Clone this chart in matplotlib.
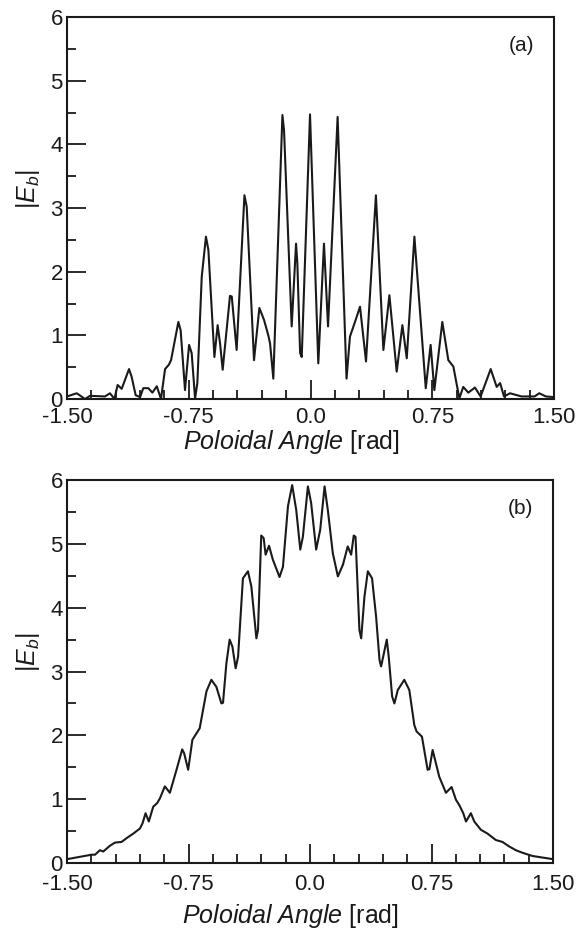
import matplotlib
matplotlib.use("Agg")
import matplotlib.pyplot as plt
from matplotlib.ticker import MultipleLocator

plt.rcParams['font.family'] = ['Liberation Sans', 'DejaVu Sans']
plt.rcParams['mathtext.fontset'] = 'custom'
plt.rcParams['mathtext.rm'] = 'Liberation Sans'
plt.rcParams['mathtext.it'] = 'Liberation Sans:italic'

# Panel (a)
angle_a = [-1.5, -1.44, -1.389, -1.358, -1.266, -1.235, -1.208, -1.188, -1.163, -1.118, -1.102,
           -1.077, -1.05, -1.03, -0.999, -0.974, -0.947, -0.921, -0.896, -0.872, -0.859, -0.814,
           -0.800, -0.773, -0.748, -0.732, -0.711, -0.697, -0.670, -0.644, -0.629, -0.592, -0.572,
           -0.557, -0.541, -0.496, -0.485, -0.455, -0.407, -0.393, -0.348, -0.315, -0.286, -0.260,
           -0.249, -0.229, -0.173, -0.163, -0.116, -0.089, -0.081, -0.064, -0.054, -0.003,
           0.048, 0.083, 0.108, 0.167, 0.222, 0.243, 0.274, 0.305, 0.342, 0.403, 0.449, 0.486,
           0.531, 0.566, 0.593, 0.640, 0.710, 0.740, 0.763, 0.812, 0.849, 0.880, 0.917, 0.941,
           0.972, 1.013, 1.048, 1.110, 1.147, 1.168, 1.192, 1.229, 1.30, 1.38, 1.409, 1.45, 1.5]
eb_a = [0.04, 0.09, 0.0, 0.05, 0.04, 0.09, 0.0, 0.22, 0.16, 0.47, 0.35,
        0.06, 0.03, 0.17, 0.17, 0.10, 0.20, 0.0, 0.47, 0.54, 0.61, 1.21,
        1.08, 0.14, 0.85, 0.72, 0.01, 0.25, 1.92, 2.55, 2.34, 0.66, 1.16,
        0.87, 0.46, 1.62, 1.61, 0.77, 3.20, 3.02, 0.61, 1.43, 1.24, 1.00,
        0.87, 0.32, 4.46, 4.22, 1.14, 2.44, 2.13, 0.72, 0.66, 4.47,
        0.56, 2.44, 1.14, 4.43, 0.32, 0.98, 1.21, 1.45, 0.59, 3.20, 0.77, 1.63,
        0.43, 1.16, 0.64, 2.55, 0.17, 0.85, 0.14, 1.21, 0.61, 0.51, 0.01, 0.19,
        0.10, 0.18, 0.04, 0.47, 0.19, 0.25, 0.04, 0.09, 0.04, 0.04, 0.09, 0.04, 0.03]

# Panel (b)
angle_b = [-1.5, -1.348, -1.327, -1.297, -1.276, -1.235, -1.204, -1.163, -1.132, -1.091, -1.050,
           -1.034, -1.015, -0.995, -0.968, -0.943, -0.927, -0.896, -0.865, -0.824, -0.789, -0.777,
           -0.752, -0.726, -0.701, -0.681, -0.639, -0.609, -0.578, -0.547, -0.537, -0.516, -0.496,
           -0.479, -0.459, -0.444, -0.414, -0.383, -0.362, -0.331, -0.321, -0.301, -0.286, -0.274,
           -0.253, -0.229, -0.188, -0.167, -0.136, -0.110, -0.085, -0.060, -0.044, -0.013,
           0.007, 0.038, 0.063, 0.090, 0.110, 0.141, 0.172, 0.203, 0.233, 0.254, 0.270, 0.281,
           0.305, 0.316, 0.336, 0.357, 0.383, 0.408, 0.429, 0.439, 0.474, 0.486, 0.507, 0.521,
           0.542, 0.582, 0.613, 0.644, 0.658, 0.691, 0.726, 0.737, 0.757, 0.798, 0.839, 0.874,
           0.901, 0.921, 0.946, 0.963, 0.993, 1.014, 1.055, 1.096, 1.147, 1.188, 1.229, 1.271,
           1.312, 1.373, 1.5]
eb_b = [0.06, 0.13, 0.13, 0.20, 0.18, 0.27, 0.32, 0.33, 0.39, 0.46, 0.54,
        0.62, 0.78, 0.65, 0.88, 0.94, 1.01, 1.20, 1.10, 1.46, 1.78, 1.72,
        1.46, 1.93, 2.03, 2.11, 2.69, 2.87, 2.76, 2.50, 2.51, 3.13, 3.50,
        3.39, 3.05, 3.23, 4.46, 4.57, 4.33, 3.52, 3.65, 5.13, 5.09, 4.83,
        4.97, 4.75, 4.48, 4.64, 5.59, 5.92, 5.53, 4.91, 5.11, 5.90,
        5.64, 4.91, 5.22, 5.90, 5.53, 4.85, 4.49, 4.67, 4.96, 4.83, 5.13, 5.11,
        3.65, 3.52, 4.17, 4.57, 4.46, 3.86, 3.18, 3.08, 3.50, 3.23, 2.61, 2.50,
        2.71, 2.87, 2.71, 2.16, 2.06, 1.98, 1.46, 1.47, 1.77, 1.35, 1.10, 1.19,
        0.99, 0.91, 0.78, 0.65, 0.78, 0.65, 0.52, 0.46, 0.36, 0.33, 0.26, 0.20,
        0.16, 0.11, 0.06]

xticks = [-1.5, -0.75, 0.0, 0.75, 1.5]
xticklabels = ['-1.50', '-0.75', '0.0', '0.75', '1.50']
yticks = [0, 1, 2, 3, 4, 5, 6]
panel_labels = ['(a)', '(b)']

W, H = 581, 934
fig = plt.figure(figsize=(W / 100, H / 100), dpi=100)

def make_ax(top_px, bot_px, left_px=67, right_px=554):
    return fig.add_axes([left_px / W, 1 - bot_px / H, (right_px - left_px) / W, (bot_px - top_px) / H])

ax_a = make_ax(17, 399)
ax_b = make_ax(480, 863, right_px=553)

for ax, xs, ys, lab, tpad, lpad in [(ax_a, angle_a, eb_a, panel_labels[0], 6, 0),
                                     (ax_b, angle_b, eb_b, panel_labels[1], 8, 5)]:
    ax.plot(xs, ys, color='#1a1a1a', lw=1.5)
    ax.set_xlim(-1.5, 1.5)
    ax.set_ylim(0, 6)
    ax.set_xticks(xticks)
    ax.set_xticklabels(xticklabels)
    ax.xaxis.set_minor_locator(MultipleLocator(0.15))
    ax.set_yticks(yticks)
    ax.yaxis.set_minor_locator(MultipleLocator(0.5))
    ax.tick_params(which='major', direction='in', length=13.5, width=1.3, labelsize=16,
                   top=False, right=False, color='#1a1a1a', labelcolor='#1a1a1a')
    ax.tick_params(which='minor', direction='in', length=6.5, width=1.3,
                   top=False, right=False, color='#1a1a1a')
    ax.tick_params(axis='x', which='major', pad=tpad)
    ax.tick_params(axis='y', which='major', pad=3)
    for s in ax.spines.values():
        s.set_linewidth(1.5)
        s.set_color('#1a1a1a')
    ax.set_xlabel(r'$\it{Poloidal\ Angle}$ [rad]', fontsize=18, labelpad=lpad,
                  color='#1a1a1a', x=0.46)
    ax.set_ylabel(r'$|E_b|$', fontsize=18, labelpad=6, color='#1a1a1a', y=0.55)
    ax.text(0.96, 0.925, lab, transform=ax.transAxes, ha='right', va='center', fontsize=15,
            color='#1a1a1a')

fig.savefig('out.png', dpi=100)
